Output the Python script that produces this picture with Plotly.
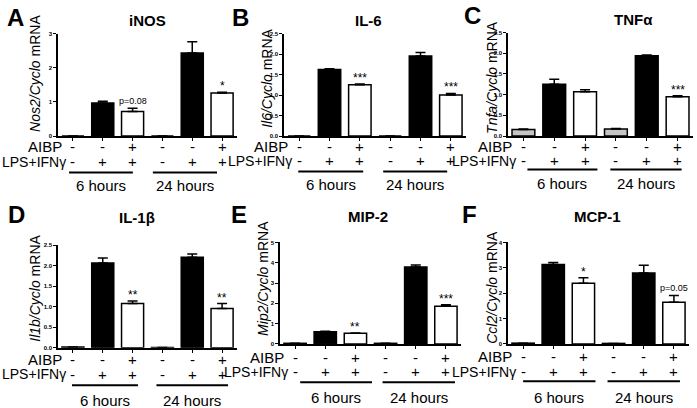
import plotly.graph_objects as go

W, H = 697, 408

# ---------------- data ----------------
positions = [0, 1, 2, 3, 4, 5]
aibp_signs = ["-", "-", "+", "-", "-", "+"]
lps_signs = ["-", "+", "+", "-", "+", "+"]
group_labels = ["6 hours", "24 hours"]

inos = [0.0, 0.97, 0.72, 0.0, 2.43, 1.26]
inos_err = [0.0, 0.05, 0.09, 0.0, 0.33, 0.02]
inos_sig = ["", "", "p=0.08", "", "", "*"]

il6 = [0.0, 1.62, 1.25, 0.0, 1.95, 1.00]
il6_err = [0.0, 0.02, 0.02, 0.0, 0.09, 0.04]
il6_sig = ["", "", "***", "", "", "***"]

tnfa = [0.16, 1.25, 1.07, 0.17, 1.94, 0.95]
tnfa_err = [0.01, 0.12, 0.05, 0.01, 0.02, 0.02]
tnfa_sig = ["", "", "", "", "", "***"]

il1b = [0.02, 2.07, 1.08, 0.01, 2.21, 0.96]
il1b_err = [0.0, 0.12, 0.06, 0.0, 0.08, 0.12]
il1b_sig = ["", "", "**", "", "", "**"]

mip2 = [0.03, 0.60, 0.52, 0.03, 3.79, 1.86]
mip2_err = [0.0, 0.03, 0.02, 0.0, 0.10, 0.07]
mip2_sig = ["", "", "**", "", "", "***"]

mcp1 = [0.03, 3.13, 2.39, 0.02, 2.80, 1.64]
mcp1_err = [0.0, 0.08, 0.22, 0.0, 0.30, 0.27]
mcp1_sig = ["", "", "*", "", "", "p=0.05"]

# ---------------- panel layout (pixels) ----------------
panels = [
    dict(letter="A", title="iNOS", ytitle="<i>Nos2/Cyclo</i> mRNA", y=inos, e=inos_err, s=inos_sig,
         ymax=3, dtick=1, fmt="d", x0=58, x1=237, ybot=135, ytop=31,
         letter_xy=(15, 15), title_xy=(147, 18), yt_xy=(35, 72),
         rows=(146, 161, 172, 185), lines=((-0.13, 2.01), (2.68, 4.83))),
    dict(letter="B", title="IL-6", ytitle="<i>Il6/Cyclo</i> mRNA", y=il6, e=il6_err, s=il6_sig,
         ymax=2.5, dtick=0.5, fmt=".1f", x0=284, x1=466, ybot=135, ytop=31,
         letter_xy=(240, 15), title_xy=(368, 18), yt_xy=(267, 77),
         rows=(146, 160, 171, 184), lines=((-0.03, 2.11), (2.77, 4.88))),
    dict(letter="C", title="TNFα", ytitle="<i>Tnfa/Cyclo</i> mRNA", y=tnfa, e=tnfa_err, s=tnfa_sig,
         ymax=2.5, dtick=0.5, fmt=".1f", x0=508, x1=693, ybot=135, ytop=30,
         letter_xy=(472, 13), title_xy=(633, 17), yt_xy=(492, 76),
         rows=(146, 160, 169, 183), lines=((0.13, 2.4), (2.82, 5.13))),
    dict(letter="D", title="IL-1β", ytitle="<i>Il1b/Cyclo</i> mRNA", y=il1b, e=il1b_err, s=il1b_sig,
         ymax=2.5, dtick=0.5, fmt=".1f", x0=58, x1=237, ybot=350, ytop=246,
         letter_xy=(16, 215), title_xy=(137, 218), yt_xy=(35, 290),
         rows=(362, 377, 388, 403), lines=((-0.03, 2.18), (2.8, 5.2))),
    dict(letter="E", title="MIP-2", ytitle="<i>Mip2/Cyclo</i> mRNA", y=mip2, e=mip2_err, s=mip2_sig,
         ymax=5, dtick=1, fmt="d", x0=280, x1=461, ybot=346, ytop=243,
         letter_xy=(239, 215), title_xy=(368, 217), yt_xy=(263, 280),
         rows=(360, 374, 385, 400), lines=((0.17, 2.55), (2.9, 5.3))),
    dict(letter="F", title="MCP-1", ytitle="<i>Ccl2/Cyclo</i> mRNA", y=mcp1, e=mcp1_err, s=mcp1_sig,
         ymax=4, dtick=1, fmt="d", x0=508, x1=689, ybot=346, ytop=243,
         letter_xy=(469, 215), title_xy=(597, 217), yt_xy=(492, 289),
         rows=(359, 374, 384, 400), lines=((0.0, 2.4), (2.8, 5.2))),
]

FONT = "Arial, Liberation Sans, sans-serif"
bar_fill = ["#c4c4c4", "black", "white", "#c4c4c4", "black", "white"]


def px(x):
    return x / W


def py(y):
    return 1 - y / H


def txt(text, x, y, xref="paper", yref="paper", size=15, xanchor="center", yanchor="middle", **kw):
    return dict(text=text, x=x, y=y, xref=xref, yref=yref, showarrow=False,
                xanchor=xanchor, yanchor=yanchor,
                font=dict(size=size, family=FONT, color="black"), **kw)


fig = go.Figure()
annotations = []
shapes = []
layout_axes = {}

for i, p in enumerate(panels, start=1):
    xa = "x" if i == 1 else f"x{i}"
    ya = "y" if i == 1 else f"y{i}"
    fig.add_trace(go.Bar(
        x=positions, y=p["y"], xaxis=xa, yaxis=ya, width=0.74,
        marker=dict(color=bar_fill, line=dict(color="black", width=1.5)),
        error_y=dict(type="data", array=p["e"], arrayminus=[0] * 6, symmetric=False,
                     color="black", thickness=1.5, width=5),
        showlegend=False, hoverinfo="skip",
    ))
    xkey = "xaxis" if i == 1 else f"xaxis{i}"
    ykey = "yaxis" if i == 1 else f"yaxis{i}"
    layout_axes[xkey] = dict(
        domain=[px(p["x0"]), px(p["x1"])], anchor=ya, range=[-0.5, 5.5],
        showline=True, linecolor="black", linewidth=1.5, ticks="outside", ticklen=3,
        tickwidth=1, tickcolor="black", tickvals=positions, showticklabels=False,
        showgrid=False, zeroline=False, fixedrange=True)
    layout_axes[ykey] = dict(
        domain=[py(p["ybot"]), py(p["ytop"])], anchor=xa, range=[0, p["ymax"]],
        showline=True, linecolor="black", linewidth=1.5, ticks="outside", ticklen=3,
        tickwidth=1, tickcolor="black", dtick=p["dtick"], tick0=0, tickformat=p["fmt"],
        tickfont=dict(size=6, family=FONT, color="black", weight="bold"),
        showgrid=False, zeroline=False, fixedrange=True)

    # panel letter, title, y title
    annotations.append(txt(f"<b>{p['letter']}</b>", px(p["letter_xy"][0]), py(p["letter_xy"][1]), size=24))
    annotations.append(txt(f"<b>{p['title']}</b>", px(p["title_xy"][0]), py(p["title_xy"][1]), size=15))
    annotations.append(txt(p["ytitle"], px(p["yt_xy"][0]), py(p["yt_xy"][1]), size=14, textangle=-90))
    # significance marks
    for k in range(6):
        if p["s"][k]:
            small = p["s"][k].startswith("p")
            annotations.append(txt(p["s"][k], positions[k], p["y"][k] + p["e"][k], xref=xa, yref=ya,
                                   size=9 if small else 12, yanchor="bottom",
                                   yshift=0 if small else -3))
    # sign rows
    r_aibp, r_lps, r_line, r_hours = p["rows"]
    c0 = p["x0"] + (p["x1"] - p["x0"]) / 12
    annotations.append(txt("AIBP", px(c0 - 9), py(r_aibp), size=15, xanchor="right"))
    annotations.append(txt("LPS+IFNγ", px(c0 - 5), py(r_lps), size=14, xanchor="right"))
    for k in range(6):
        annotations.append(txt(aibp_signs[k], positions[k], py(r_aibp), xref=xa, size=15))
        annotations.append(txt(lps_signs[k], positions[k], py(r_lps), xref=xa, size=15))
    for g, (a, b) in enumerate(p["lines"]):
        shapes.append(dict(type="line", xref=xa, yref="paper", x0=a, x1=b, y0=py(r_line), y1=py(r_line),
                           line=dict(color="black", width=2)))
        annotations.append(txt(group_labels[g], (a + b) / 2, py(r_hours), xref=xa, size=15))

fig.update_layout(
    width=W, height=H, margin=dict(l=0, r=0, t=0, b=0),
    paper_bgcolor="white", plot_bgcolor="white",
    annotations=annotations, shapes=shapes,
    font=dict(family=FONT, color="black"),
    **layout_axes,
)

fig.write_html("out.html", config={"displayModeBar": False},
               post_script="document.body.style.margin='0';")
